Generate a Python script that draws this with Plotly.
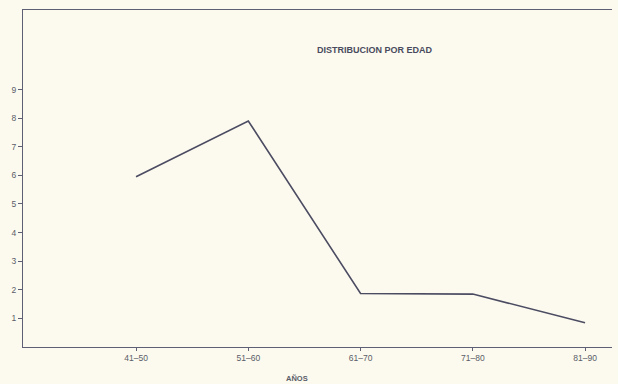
import plotly.graph_objects as go

categories = ["41–50", "51–60", "61–70", "71–80", "81–90"]
values = [5.95, 7.9, 1.87, 1.85, 0.85]
y_ticks = [1, 2, 3, 4, 5, 6, 7, 8, 9]
title_text = "DISTRIBUCION POR EDAD"
x_title = "AÑOS"

bg = "#fcfaee"
ink = "#4b4b62"
txt = "#5a5c68"

fig = go.Figure()
fig.add_trace(go.Scatter(
    x=list(range(len(categories))), y=values, mode="lines",
    line=dict(color=ink, width=1.6), hoverinfo="skip", showlegend=False,
))

fig.update_layout(
    width=618, height=384,
    margin=dict(l=23, r=6, t=10, b=37, autoexpand=False),
    paper_bgcolor=bg, plot_bgcolor=bg,
    font=dict(family="Liberation Sans, Arial, sans-serif", size=8, color=txt),
    showlegend=False,
)
fig.update_xaxes(
    range=[-1.007, 4.24], automargin=False,
    tickmode="array", tickvals=list(range(len(categories))), ticktext=categories,
    showgrid=False, zeroline=False,
    showline=True, linecolor="#5e5e74", linewidth=1.3, mirror=True,
    ticks="outside", ticklen=3, tickwidth=1, tickcolor="#5e5e74",
    tickfont=dict(size=8.5, color=txt),
)
fig.update_yaxes(
    range=[0, 11.78], automargin=False,
    tickmode="array", tickvals=y_ticks, ticktext=[str(v) for v in y_ticks],
    showgrid=False, zeroline=False,
    showline=True, linecolor="#5e5e74", linewidth=1.3,
    ticks="outside", ticklen=4, tickwidth=1, tickcolor="#5e5e74",
    tickfont=dict(size=8.5, color=txt),
)

fig.add_annotation(
    text="<b>" + title_text + "</b>", xref="paper", yref="paper", x=0.598, y=(384 - 50 - 37) / 337,
    showarrow=False, font=dict(size=9, color="#4a4a5e", family="Liberation Sans, Arial, sans-serif"),
    xanchor="center", yanchor="middle",
)
fig.add_annotation(
    text="<b>" + x_title + "</b>", xref="x", yref="paper", x=1.43, y=0,
    yshift=-31, showarrow=False,
    font=dict(size=7.5, color=txt), xanchor="center", yanchor="middle",
)

fig.write_html(
    "out.html",
    config={"displayModeBar": False},
    post_script="document.body.style.margin='0';document.body.style.background='%s';" % bg,
)
